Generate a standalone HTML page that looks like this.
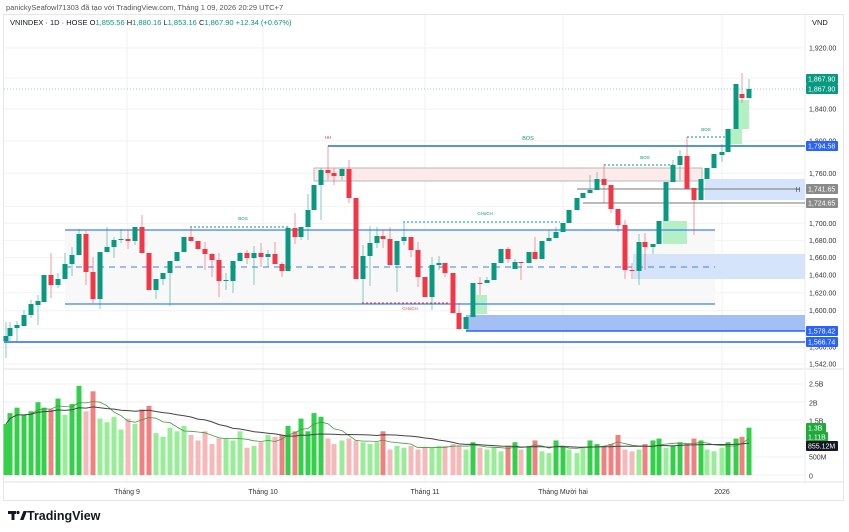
<!DOCTYPE html>
<html><head><meta charset="utf-8"><style>
body{margin:0;background:#fff;width:849px;height:532px;overflow:hidden;font-family:"Liberation Sans",sans-serif}
svg{position:absolute;left:0;top:0}
</style></head><body>
<svg id="s" width="849" height="532" xmlns="http://www.w3.org/2000/svg" font-family="Liberation Sans, sans-serif">
<rect x="0" y="0" width="849" height="532" fill="#fff"/>
<text x="6" y="10" font-size="7.5" fill="#555">panickySeafowl71303 đã tạo với TradingView.com, Tháng 1 09, 2026 20:29 UTC+7</text>
<rect x="3.5" y="14.5" width="840" height="486" fill="none" stroke="#e6e6e6"/>
<g id="grid"></g>
<g id="shapes"></g>
<g id="cand"></g>
<g id="vol"></g>
<g id="axis"></g>
<text x="10" y="25" font-size="7.5" fill="#131722">VNINDEX · 1D · HOSE <tspan fill="#131722">O</tspan><tspan fill="#089981">1,855.56</tspan> <tspan fill="#131722">H</tspan><tspan fill="#089981">1,880.16</tspan> <tspan fill="#131722">L</tspan><tspan fill="#089981">1,853.16</tspan> <tspan fill="#131722">C</tspan><tspan fill="#089981">1,867.90</tspan> <tspan fill="#089981">+12.34 (+0.67%)</tspan></text>
<text x="812" y="25" font-size="7.5" fill="#131722">VND</text>
<g fill="#131722">
<rect x="8" y="511" width="8" height="3"/><rect x="11.5" y="511" width="3" height="9"/>
<circle cx="18" cy="512.5" r="1.6"/>
<polygon points="20,520 23.5,520 27,511 23.5,511"/>
</g>
<text x="27" y="520" font-size="12.5" font-weight="bold" fill="#131722">TradingView</text>
</svg>
<script>
const NS="http://www.w3.org/2000/svg";
function el(p,t,a,txt){const e=document.createElementNS(NS,t);for(const k in a)e.setAttribute(k,a[k]);if(txt!==undefined)e.textContent=txt;document.getElementById(p).appendChild(e);return e;}
const PR=805;
function py(p){return 223.3-1442*Math.log(p/1700);}
[1920,1880,1840,1800,1760,1720,1700,1680,1660,1640,1620,1600,1580,1560,1542].forEach(p=>el('grid','line',{x1:4,x2:PR,y1:py(p),y2:py(p),stroke:'#f2f2f2'}));
[384,402,420,438,457,475].forEach(y=>el('grid','line',{x1:4,x2:PR,y1:y,y2:y,stroke:'#f2f2f2'}));
[127,263,425,563,722].forEach(x=>el('grid','line',{x1:x,x2:x,y1:15,y2:482,stroke:'#f0f0f0'}));
el('grid','line',{x1:4,x2:843,y1:369,y2:369,stroke:'#e0e0e0'});
el('grid','line',{x1:4,x2:843,y1:482,y2:482,stroke:'#e0e0e0'});
el('grid','line',{x1:PR,x2:PR,y1:15,y2:482,stroke:'#eeeeee'});
const S='shapes';
el(S,'rect',{x:65,y:230,width:650,height:74,fill:'#f8f8f8'});
el(S,'rect',{x:314,y:168,width:388,height:13,fill:'#fdeaea',stroke:'#b8b8b8','stroke-width':1});
el(S,'rect',{x:705,y:179,width:100,height:21,fill:'#d6e4fb'});
el(S,'rect',{x:633,y:254,width:172,height:25,fill:'#d6e4fb'});
el(S,'rect',{x:466,y:315,width:339,height:16,fill:'#a3bff4'});
el(S,'rect',{x:663,y:221,width:24,height:23,fill:'#b5f0c4'});
el(S,'rect',{x:727,y:129,width:15,height:15,fill:'#b5f0c4'});
el(S,'rect',{x:738,y:100,width:11,height:29,fill:'#b5f0c4'});
el(S,'rect',{x:476,y:295,width:11,height:19,fill:'#b5f0c4'});
el(S,'line',{x1:328,x2:PR,y1:146,y2:146,stroke:'#1f77b4','stroke-width':1.5});
el(S,'line',{x1:577,x2:800,y1:189,y2:189,stroke:'#777'});
el(S,'line',{x1:583,x2:PR,y1:203,y2:203,stroke:'#777'});
el(S,'line',{x1:65,x2:715,y1:230,y2:230,stroke:'#3b82f6','stroke-width':1.2});
el(S,'line',{x1:65,x2:715,y1:304,y2:304,stroke:'#3b82f6','stroke-width':1.2});
el(S,'line',{x1:65,x2:715,y1:267,y2:267,stroke:'#3b82f6','stroke-dasharray':'6 5'});
el(S,'line',{x1:466,x2:PR,y1:331,y2:331,stroke:'#2962ff','stroke-width':1.5});
el(S,'line',{x1:4,x2:PR,y1:342,y2:342,stroke:'#2962ff','stroke-width':1.5});
el(S,'line',{x1:4,x2:PR,y1:89,y2:89,stroke:'#8fd3c4','stroke-dasharray':'1 2'});
const dot=(x1,x2,y,c)=>el(S,'line',{x1,x2,y1:y,y2:y,stroke:c,'stroke-dasharray':'2 2'});
dot(190,288,227,'#089981');dot(403,560,222,'#089981');dot(362,450,303,'#f23645');dot(604,673,165,'#089981');dot(687,727,137,'#089981');
const lab=(x,y,t,c)=>el(S,'text',{x,y,'font-size':4.5,fill:c,'text-anchor':'middle'},t);
lab(243,220,'BOS','#089981');lab(485,215,'CHoCH','#089981');lab(410,310,'CHoCH','#f23645');lab(645,159,'BOS','#089981');lab(706,131,'BOS','#089981');
lab(328,139,'HH','#f23645');el(S,'text',{x:528,y:140,'font-size':5.5,fill:'#089981','text-anchor':'middle'},'BOS');
el(S,'text',{x:798,y:192,'font-size':7,fill:'#555','text-anchor':'middle'},'H');
const C=[[6,336,341,322,358,'g'],[10,328,336,322,341,'g'],[17,325,328,321,342,'g'],[24,315,326,310,326,'g'],[31,304,315,300,318,'g'],[38,301,305,295,325,'g'],[44,275,302,275,302,'g'],[51,275,285,253,298,'r'],[58,279,285,273,288,'g'],[65,264,279,253,279,'g'],[72,255,264,247,276,'g'],[79,234,255,229,255,'g'],[86,234,272,231,285,'r'],[93,272,299,257,303,'r'],[100,252,299,252,309,'g'],[107,247,252,227,252,'g'],[114,240,247,237,258,'g'],[121,239,240,229,243,'g'],[128,239,241,230,249,'r'],[135,227,241,227,245,'g'],[142,227,253,215,253,'r'],[149,253,290,253,290,'r'],[156,279,290,279,299,'g'],[163,273,279,273,285,'g'],[170,261,273,261,306,'g'],[177,252,261,252,261,'g'],[184,237,252,237,252,'g'],[191,237,241,227,241,'r'],[198,241,249,241,249,'r'],[205,249,254,242,270,'r'],[212,254,260,253,277,'r'],[219,260,281,253,297,'r'],[226,280,281,273,290,'g'],[233,261,281,261,293,'g'],[240,253,261,252,261,'g'],[247,253,258,250,264,'r'],[254,253,258,246,285,'g'],[261,253,257,243,267,'r'],[268,254,257,250,267,'g'],[275,254,264,242,264,'r'],[282,264,271,262,277,'r'],[288,228,271,227,271,'g'],[295,228,237,213,244,'r'],[301,227,237,227,240,'g'],[308,210,227,194,240,'g'],[314,185,210,185,210,'g'],[321,170,185,168,220,'g'],[328,170,173,146,180,'r'],[334,173,176,168,185,'r'],[342,169,176,168,180,'g'],[349,169,198,160,203,'r'],[356,198,279,198,279,'r'],[363,256,279,245,303,'g'],[370,243,256,226,286,'g'],[377,236,243,227,248,'g'],[383,236,239,230,248,'r'],[390,239,265,227,265,'r'],[397,241,265,241,292,'g'],[404,237,241,223,245,'g'],[411,237,250,237,257,'r'],[418,250,277,242,287,'r'],[425,277,297,277,297,'r'],[432,265,297,257,310,'g'],[439,263,265,256,270,'g'],[445,263,273,263,277,'r'],[453,273,313,273,313,'r'],[459,313,329,303,329,'r'],[466,317,329,317,329,'g'],[473,283,317,283,317,'g'],[480,283,284,277,295,'r'],[487,280,283,277,283,'g'],[494,263,280,263,280,'g'],[501,249,263,249,263,'g'],[508,249,259,247,263,'r'],[515,262,269,259,269,'g'],[521,262,263,262,280,'r'],[529,252,263,252,263,'g'],[535,252,259,237,259,'r'],[542,241,259,241,259,'g'],[549,238,241,230,241,'g'],[556,232,238,227,238,'g'],[563,223,232,223,232,'g'],[569,210,223,210,223,'g'],[577,198,210,198,210,'g'],[583,193,198,193,198,'g'],[590,190,193,175,193,'g'],[597,179,190,172,190,'g'],[604,179,185,164,203,'r'],[611,185,209,185,213,'r'],[618,209,225,209,232,'r'],[625,225,270,220,279,'r'],[632,270,271,263,279,'r'],[639,242,271,234,285,'g'],[645,242,247,233,270,'r'],[653,244,247,244,254,'g'],[659,221,244,221,244,'g'],[666,182,221,182,221,'g'],[673,165,182,160,182,'g'],[680,156,165,150,180,'g'],[687,156,189,137,189,'r'],[694,188,200,188,235,'r'],[701,179,200,179,200,'g'],[707,168,179,168,179,'g'],[714,154,168,154,168,'g'],[722,152,155,144,162,'g'],[728,129,152,129,152,'g'],[736,84,129,84,129,'g'],[742,94,98,73,103,'r'],[749,89,98,79,98,'g']];
C.forEach(c=>{const col=c[5]=='g'?'#089981':'#f23645';
el('cand','line',{x1:c[0],x2:c[0],y1:c[3],y2:c[4],stroke:col,'stroke-opacity':0.5,'stroke-width':1});
el('cand','rect',{x:c[0]-2.5,y:c[1],width:5,height:Math.max(1,c[2]-c[1]),fill:col});});
const V=[1.4,1.7,1.85,1.65,1.75,2.0,1.85,1.8,2.1,1.65,1.95,2.45,1.75,2.3,1.55,1.45,1.6,1.25,1.55,1.4,1.8,1.9,1.15,1.05,1.3,1.2,1.35,1.1,0.95,1.2,0.85,1.0,1.0,0.95,1.2,0.75,0.8,0.9,1.1,1.05,1.1,1.35,1.2,1.55,1.2,1.7,1.6,1.0,0.85,0.95,1.0,0.95,0.9,0.85,0.9,1.2,0.7,0.8,0.75,0.8,0.7,0.75,0.75,0.8,0.8,0.85,0.8,0.7,0.9,0.75,0.7,0.75,0.65,0.8,0.9,0.7,0.8,0.95,0.65,0.6,0.95,0.8,0.7,0.6,0.75,0.95,0.85,0.8,0.85,1.1,0.7,0.65,0.7,0.85,0.95,1.0,0.75,0.8,0.9,0.85,1.0,0.95,0.7,0.65,0.75,0.9,1.0,1.05,1.3,1.3];
const vy=v=>475-v*36.4;
const ma=(n,i)=>{let s=0,k=0;for(let j=Math.max(0,i-n+1);j<=i;j++){s+=V[j]||0.8;k++;}return s/k;};
let p1='',p2='';
C.forEach((c,i)=>{const v=V[i]||0.8;const m=ma(20,i);const g=c[5]=='g';
const col=g?(v>=m?'#33d14a':'#97ee97'):(v>=m?'#f28080':'#f6b9b9');
el('vol','rect',{x:c[0]-2.5,y:vy(v),width:5,height:v*36.4,fill:col});
p1+=(i?'L':'M')+c[0]+' '+vy(ma(20,i)).toFixed(1);p2+=(i?'L':'M')+c[0]+' '+vy(ma(5,i)).toFixed(1);});
el('vol','path',{d:p2,fill:'none',stroke:'#3f9b3f','stroke-width':0.8});
el('vol','path',{d:p1,fill:'none',stroke:'#444','stroke-width':1});
const A='axis';
[[1920,'1,920.00'],[1840,'1,840.00'],[1800,'1,800.00'],[1760,'1,760.00'],[1700,'1,700.00'],[1680,'1,680.00'],[1660,'1,660.00'],[1640,'1,640.00'],[1620,'1,620.00'],[1600,'1,600.00'],[1560,'1,560.00'],[1542,'1,542.00']].forEach(a=>el(A,'text',{x:809,y:py(a[0])+2.5,'font-size':7,fill:'#333'},a[1]));
[[384,'2.5B'],[403,'2B'],[421,'1.5B'],[457,'500M'],[476,'0']].forEach(a=>el(A,'text',{x:809,y:a[0]+2.5,'font-size':7,fill:'#333'},a[1]));
const badge=(y,t,bg,w)=>{el(A,'rect',{x:806,y:y-5,width:w||32,height:10,fill:bg,rx:1});el(A,'text',{x:808,y:y+2.5,'font-size':7,fill:'#fff'},t);};
badge(79,'1,867.90','#089981');badge(89,'1,867.90','#089981');badge(146,'1,794.58','#2962ff');
badge(189,'1,741.65','#8a8a8a');badge(203,'1,724.65','#8a8a8a');badge(331,'1,578.42','#2962ff');badge(342,'1,566.74','#2962ff');
badge(428,'1.3B','#1faa3a',20);badge(437,'1.11B','#1faa3a',22);badge(446,'855.12M','#131722',32);
[[127,'Tháng 9'],[263,'Tháng 10'],[425,'Tháng 11'],[563,'Tháng Mười hai'],[722,'2026']].forEach(a=>el(A,'text',{x:a[0],y:494,'font-size':7,fill:'#333','text-anchor':'middle'},a[1]));
</script>
</body></html>
